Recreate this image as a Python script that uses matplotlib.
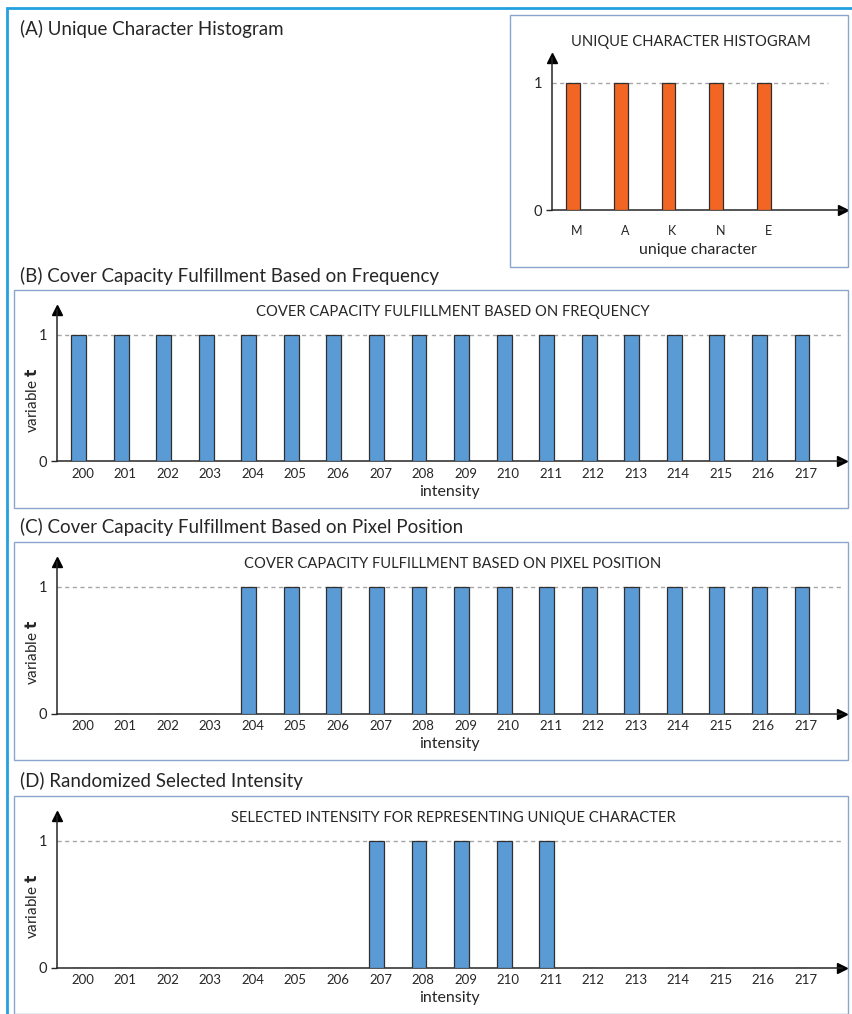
import numpy as np
import matplotlib
matplotlib.use("Agg")
import matplotlib.pyplot as plt
from matplotlib.patches import Rectangle
from matplotlib.transforms import ScaledTranslation

plt.rcParams['font.family'] = ['Lato', 'DejaVu Sans']

# data
chars = ['M', 'A', 'K', 'N', 'E']
char_hist = [1, 1, 1, 1, 1]

intensities = list(range(200, 218))
t_frequency = [1] * 18
t_position = [0, 0, 0, 0] + [1] * 14
t_selected = [0] * 7 + [1] * 5 + [0] * 6

W, H = 853, 1014
fig = plt.figure(figsize=(W / 100, H / 100), dpi=100)

ORANGE = '#f26522'
BLUE = '#5b9bd5'
BOX = '#8aa6cf'
FRAME = '#22a0e0'
INK = '#262626'


def fx(x):
    return x / W


def fy(y):
    return 1 - y / H


def box(x0, y0, x1, y1, color=BOX, lw=1.0):
    fig.patches.append(Rectangle((fx(x0), fy(y1)), fx(x1) - fx(x0), fy(y0) - fy(y1),
                                 transform=fig.transFigure, fill=False,
                                 edgecolor=color, linewidth=lw))


def chart(pos, first_px, last_px, n, zero_px, one_px, xs, ys, labels, color,
          width, xlabel, title, title_xy, ylabel=None, dash_end=None,
          tick_size=9.5, tick_pad=5, label_y=None):
    x0, y0, x1, y1 = pos
    ax = fig.add_axes([fx(x0), fy(y1), fx(x1) - fx(x0), fy(y0) - fy(y1)])
    step = (last_px - first_px) / (n - 1)
    ax.set_xlim(xs[0] - (first_px - x0) / step, xs[-1] + (x1 - last_px) / step)
    unit = zero_px - one_px
    ax.set_ylim(-(y1 - zero_px) / unit, 1 + (one_px - y0) / unit)

    ax.bar(xs, ys, width=width, color=color, edgecolor='#303030', linewidth=0.9, zorder=3)

    # dashed reference at 1
    dx = 1 if dash_end is None else (dash_end - x0) / (x1 - x0)
    ax.axhline(1, xmin=0, xmax=dx, color='#a6a6a6', lw=1, ls=(0, (3, 2.5)), zorder=1)

    for s in ['top', 'right']:
        ax.spines[s].set_visible(False)
    for s in ['left', 'bottom']:
        ax.spines[s].set_color(INK)
        ax.spines[s].set_linewidth(1.1)
    ax.spines['bottom'].set_position(('data', 0))
    ax.plot(1, 0, marker='>', ms=7, color='black', transform=ax.get_yaxis_transform(), clip_on=False)
    ax.plot(0, 1, marker='^', ms=7, color='black', transform=ax.transAxes, clip_on=False)

    ax.set_xticks(xs)
    ax.set_xticklabels(labels, fontsize=tick_size, color=INK)
    ax.tick_params(axis='x', length=0, pad=tick_pad)
    shift = ScaledTranslation(4 / 100, 0, fig.dpi_scale_trans)
    for lab in ax.get_xticklabels():
        lab.set_transform(lab.get_transform() + shift)
    ax.set_yticks([0, 1])
    ax.set_yticklabels(['0', '1'], fontsize=10.5, color=INK)
    ax.tick_params(axis='y', length=4, width=1, color=INK, pad=3)
    ax.yaxis.get_major_ticks()[1].tick1line.set_visible(False)
    ax.set_facecolor('none')

    ax.set_xlabel(xlabel, fontsize=11.5, color=INK)
    ax.xaxis.set_label_coords(0.5, -(label_y - y1) / (y1 - y0), transform=ax.transAxes)
    ax.xaxis.label.set_va('center')
    if ylabel:
        ax.set_ylabel(ylabel, fontsize=11, color=INK)
        mid = (zero_px + one_px) / 2 + 2
        ax.yaxis.set_label_coords((32 - x0) / (x1 - x0), (y1 - mid) / (y1 - y0))
        ax.yaxis.label.set_va('center')
    fig.text(fx(title_xy[0]), fy(title_xy[1]), title, fontsize=10.6, color=INK,
             ha='center', va='center')
    return ax


# outer frame
fig.patches.append(Rectangle((fx(7), fy(1030)), 1.2, fy(8) - fy(1030),
                             transform=fig.transFigure, fill=False,
                             edgecolor=FRAME, linewidth=2))

# (A)
fig.text(fx(20), fy(29), '(A) Unique Character Histogram', fontsize=13.5,
         color=INK, va='center')
box(510, 15, 848, 267)
chart((552, 58, 843, 210), 573, 764, len(chars), 210, 83, np.arange(len(chars)),
      char_hist, chars, ORANGE, 0.29, 'unique character',
      'UNIQUE CHARACTER HISTOGRAM', (691, 42), dash_end=828,
      tick_size=9, tick_pad=11, label_y=250)

ylab = r'variable $\mathbf{t}$'
panels = [
    ('(B) Cover Capacity Fulfillment Based on Frequency', 276, 290,
     'COVER CAPACITY FULFILLMENT BASED ON FREQUENCY', t_frequency),
    ('(C) Cover Capacity Fulfillment Based on Pixel Position', 527, 542,
     'COVER CAPACITY FULFILLMENT BASED ON PIXEL POSITION', t_position),
    ('(D) Randomized Selected Intensity', 781, 796,
     'SELECTED INTENSITY FOR REPRESENTING UNIQUE CHARACTER', t_selected),
]
for label, ly, top, title, vals in panels:
    fig.text(fx(20), fy(ly), label, fontsize=13.5, color=INK, va='center')
    box(14, top, 848, top + 218)
    chart((57, top + 20, 842, top + 171.5), 78.5, 802, len(intensities),
          top + 171.5, top + 45, np.array(intensities), vals,
          [str(v) for v in intensities], BLUE, 0.35, 'intensity', title,
          (453, top + 22), ylabel=ylab, label_y=top + 202)

fig.savefig('out.png', dpi=100, facecolor='white')
